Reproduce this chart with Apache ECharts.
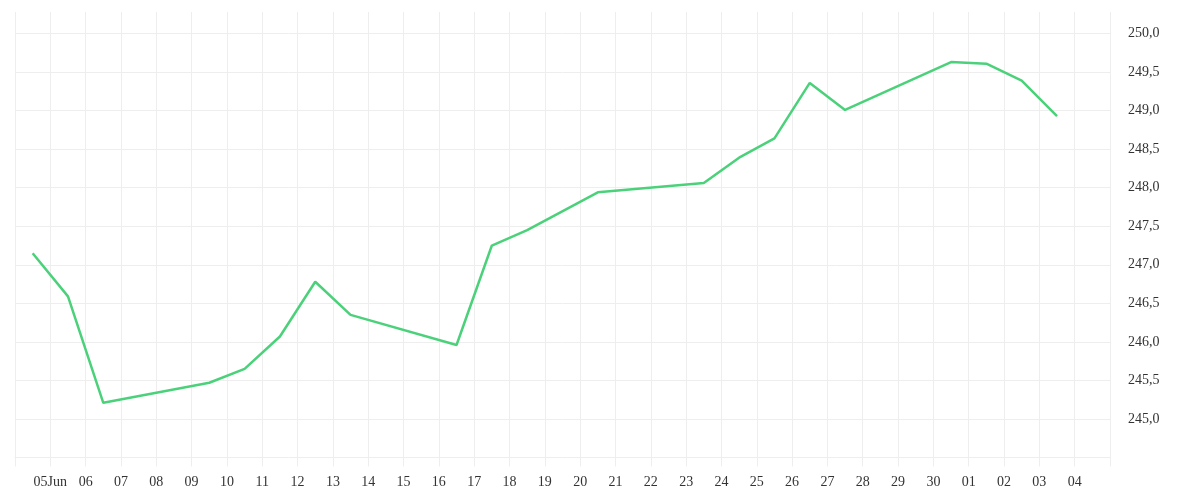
<!DOCTYPE html>
<html>
<head>
<meta charset="utf-8">
<script src="https://cdn.jsdelivr.net/npm/echarts@6/dist/echarts.min.js"></script>
<style>
html,body{margin:0;padding:0;background:#fff;}
#chart{width:1200px;height:500px;}
</style>
</head>
<body>
<div id="chart"></div>
<script>
const dates = ['2025-06-04','2025-06-05','2025-06-06','2025-06-09','2025-06-10','2025-06-11','2025-06-12','2025-06-13',
  '2025-06-16','2025-06-17','2025-06-18','2025-06-20','2025-06-23','2025-06-24','2025-06-25','2025-06-26','2025-06-27',
  '2025-06-30','2025-07-01','2025-07-02','2025-07-03'];
const values = [247.15,246.59,245.21,245.47,245.65,246.07,246.78,246.35,
  245.96,247.25,247.45,247.94,248.06,248.39,248.64,249.36,249.01,
  249.63,249.61,249.39,248.93];
const xMin = '2025-06-04';
const xMax = '2025-07-05';
const firstLabelMonth = 'Jun';
const yMin = 244.5;
const yMax = 250.28;

const FONT = 'Liberation Serif';
const chart = echarts.init(document.getElementById('chart'));
const data = dates.map((d, i) => [d + ' 12:00', values[i]]);
const gridColor = '#eeeeee';
const minTs = new Date(2025, 5, 4).getTime();
const maxTs = new Date(2025, 6, 5).getTime();
function pad(n){ return (n < 10 ? '0' : '') + n; }
chart.setOption({
  animation: false,
  grid: { left: 15, right: 90, top: 12, bottom: 42.5, containLabel: false },
  xAxis: {
    type: 'time',
    min: xMin,
    max: xMax,
    minInterval: 86400000,
    maxInterval: 86400000,
    axisLine: { show: true, lineStyle: { color: gridColor, width: 1 } },
    axisTick: { show: true, length: 9, lineStyle: { color: gridColor } },
    splitLine: { show: true, lineStyle: { color: gridColor, width: 1 } },
    axisLabel: {
      show: true,
      margin: 18,
      color: '#333',
      fontFamily: FONT,
      fontSize: 14,
      hideOverlap: false,
      formatter: function (value) {
        const d = new Date(value);
        const t = d.getTime();
        if (t <= minTs || t >= maxTs) return '';
        const dd = pad(d.getDate());
        if (d.getMonth() === 5 && d.getDate() === 5) return dd + firstLabelMonth;
        return dd;
      }
    }
  },
  yAxis: {
    type: 'value',
    position: 'right',
    min: yMin,
    max: yMax,
    splitNumber: 10,
    minInterval: 0.5,
    maxInterval: 0.5,
    axisLine: { show: false },
    axisTick: { show: false },
    splitLine: { show: true, showMinLine: false, showMaxLine: false, lineStyle: { color: gridColor, width: 1 } },
    axisLabel: {
      showMinLabel: false,
      showMaxLabel: false,
      margin: 18,
      color: '#333',
      fontFamily: FONT,
      fontSize: 14,
      formatter: function (v) {
        if (v < 244.9 || v > 250.1) return '';
        return v.toFixed(1).replace('.', ',');
      }
    }
  },
  series: [{
    type: 'line',
    data: data,
    showSymbol: false,
    symbol: 'none',
    lineStyle: { color: '#4cd17b', width: 2.5 },
    itemStyle: { color: '#4cd17b' }
  }]
});
</script>
</body>
</html>
